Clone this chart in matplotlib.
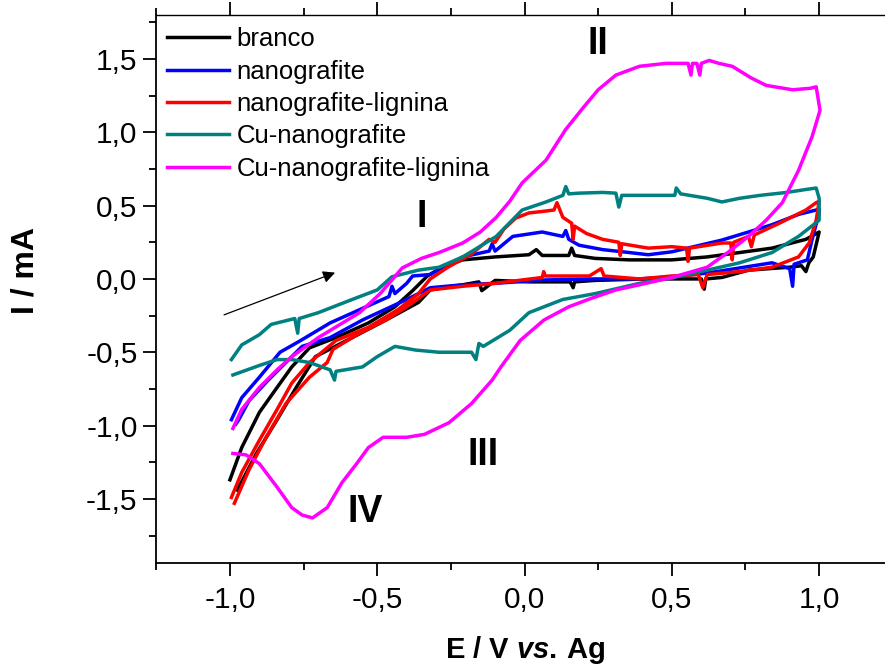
import numpy as np
import matplotlib.pyplot as plt
from matplotlib.ticker import MultipleLocator, FuncFormatter

plt.rcParams['font.family'] = ['Liberation Sans', 'DejaVu Sans']
plt.rcParams['mathtext.fontset'] = 'custom'
plt.rcParams['mathtext.it'] = 'Liberation Sans:italic:bold'
plt.rcParams['mathtext.rm'] = 'Liberation Sans:bold'

# ---------------------------------
# voltammogramas (E / V, I / mA), ida + volta
# ---------------------------------
branco_e = [-1.0, -0.96, -0.90, -0.84, -0.79, -0.73, -0.64, -0.53, -0.44, -0.38, -0.33, -0.28,
            -0.21, -0.10, 0.015, 0.04, 0.06, 0.15, 0.16, 0.17, 0.24, 0.355, 0.50, 0.62, 0.73,
            0.84, 0.955, 1.0,
            0.98, 0.965, 0.955, 0.94, 0.90, 0.76, 0.67, 0.615, 0.61, 0.60, 0.50, 0.42, 0.24,
            0.17, 0.165, 0.155, 0.015, -0.10, -0.145, -0.155, -0.21, -0.32, -0.36, -0.47,
            -0.585, -0.71, -0.775, -0.84, -0.91, -0.975]
branco_i = [-1.37, -1.15, -0.91, -0.74, -0.60, -0.47, -0.40, -0.30, -0.19, -0.08, 0.02, 0.08,
            0.13, 0.15, 0.165, 0.20, 0.16, 0.16, 0.21, 0.16, 0.14, 0.13, 0.13, 0.15, 0.18,
            0.21, 0.27, 0.32,
            0.15, 0.11, 0.05, 0.09, 0.08, 0.06, 0.01, 0.0, -0.07, 0.0, 0.0, 0.0, -0.01,
            -0.02, -0.06, -0.02, -0.02, -0.01, -0.08, -0.02, -0.04, -0.075, -0.16, -0.28,
            -0.40, -0.53, -0.74, -0.96, -1.19, -1.44]

ng_e = [-0.995, -0.96, -0.90, -0.83, -0.76, -0.66, -0.56, -0.46, -0.45, -0.44, -0.40, -0.38,
        -0.32, -0.21, -0.12, -0.11, -0.10, -0.04, 0.06, 0.13, 0.14, 0.15, 0.185, 0.265, 0.355,
        0.42, 0.50, 0.67, 0.76, 0.84, 0.93, 0.99, 1.0,
        1.0, 0.975, 0.96, 0.915, 0.91, 0.90, 0.84, 0.73, 0.62, 0.50, 0.39, 0.24, 0.07, -0.10,
        -0.21, -0.32, -0.40, -0.55, -0.66, -0.755, -0.87, -0.935, -0.97, -0.98]
ng_i = [-0.96, -0.81, -0.67, -0.50, -0.42, -0.30, -0.21, -0.12, -0.05, -0.10, -0.03, 0.02,
        0.03, 0.15, 0.19, 0.24, 0.19, 0.29, 0.32, 0.29, 0.33, 0.27, 0.23, 0.20, 0.18,
        0.165, 0.185, 0.265, 0.32, 0.37, 0.44, 0.47, 0.48,
        0.45, 0.26, 0.13, 0.10, -0.05, 0.07, 0.11, 0.075, 0.04, 0.014, 0.0, 0.0, -0.007, -0.03,
        -0.04, -0.06, -0.14, -0.28, -0.40, -0.46, -0.69, -0.83, -0.96, -0.99]

ng_lig_e = [-0.995, -0.96, -0.90, -0.84, -0.79, -0.73, -0.64, -0.53, -0.43, -0.36, -0.32, -0.26,
            -0.18, -0.12, -0.10, -0.07, -0.03, 0.015, 0.06, 0.10, 0.11, 0.13, 0.16, 0.165, 0.17,
            0.21, 0.265, 0.32, 0.325, 0.33, 0.42, 0.50, 0.55, 0.555, 0.56, 0.67, 0.70, 0.705,
            0.71, 0.76, 0.77, 0.78, 0.865, 0.955, 0.99, 1.0,
            0.99, 0.966, 0.93, 0.84, 0.73, 0.62, 0.605, 0.59, 0.50, 0.39, 0.27, 0.26, 0.22,
            0.07, 0.065, 0.06, -0.10, -0.21, -0.32, -0.40, -0.47, -0.56, -0.65, -0.67, -0.73,
            -0.81, -0.877, -0.935, -0.985]
ng_lig_i = [-1.49, -1.32, -1.10, -0.89, -0.71, -0.57, -0.42, -0.33, -0.21, -0.10, 0.00, 0.08,
            0.17, 0.27, 0.25, 0.34, 0.415, 0.45, 0.46, 0.47, 0.52, 0.42, 0.38, 0.27, 0.36,
            0.31, 0.27, 0.25, 0.16, 0.24, 0.21, 0.22, 0.21, 0.12, 0.21, 0.245, 0.245, 0.13,
            0.25, 0.29, 0.22, 0.30, 0.38, 0.47, 0.52, 0.53,
            0.40, 0.245, 0.15, 0.08, 0.05, 0.03, -0.06, 0.03, 0.02, 0.0, 0.02, 0.07, 0.02,
            0.02, 0.05, 0.01, -0.03, -0.05, -0.075, -0.19, -0.28, -0.37, -0.48, -0.57, -0.67,
            -0.85, -1.08, -1.30, -1.53]

cu_ng_e = [-0.995, -0.96, -0.90, -0.86, -0.78, -0.77, -0.765, -0.70, -0.585, -0.50, -0.45,
           -0.36, -0.29, -0.21, -0.096, -0.008, 0.073, 0.13, 0.14, 0.15, 0.185, 0.265, 0.31,
           0.32, 0.33, 0.42, 0.51, 0.515, 0.53, 0.62, 0.67, 0.73, 0.80, 0.89, 0.955, 0.99,
           1.0, 1.0, 0.93, 0.84, 0.73, 0.62, 0.50, 0.39, 0.24, 0.13, 0.066, 0.015, -0.05,
           -0.14, -0.155, -0.165, -0.18, -0.29, -0.37, -0.44, -0.50, -0.55, -0.64, -0.645,
           -0.66, -0.73, -0.79, -0.84, -0.90, -0.99]
cu_ng_i = [-0.55, -0.45, -0.38, -0.31, -0.27, -0.37, -0.27, -0.23, -0.14, -0.075, 0.015,
           0.06, 0.08, 0.15, 0.29, 0.47, 0.525, 0.57, 0.63, 0.58, 0.585, 0.59, 0.585,
           0.49, 0.57, 0.57, 0.57, 0.62, 0.58, 0.55, 0.525, 0.55, 0.57, 0.59, 0.61, 0.62,
           0.55, 0.40, 0.29, 0.18, 0.11, 0.06, 0.007, -0.03, -0.10, -0.14, -0.19, -0.23, -0.35,
           -0.46, -0.44, -0.55, -0.50, -0.50, -0.485, -0.46, -0.53, -0.60, -0.63, -0.69,
           -0.62, -0.57, -0.55, -0.55, -0.59, -0.655]

cu_ng_lig_e = [-0.99, -0.96, -0.90, -0.84, -0.79, -0.70, -0.56, -0.49, -0.415, -0.35, -0.29,
               -0.21, -0.15, -0.096, -0.05, -0.008, 0.073, 0.14, 0.20, 0.25, 0.31, 0.39, 0.48,
               0.555, 0.565, 0.57, 0.585, 0.595, 0.60, 0.627, 0.66, 0.705, 0.77, 0.82, 0.91,
               0.97, 0.99,
               1.003, 0.976, 0.93, 0.875, 0.82, 0.76, 0.69, 0.62, 0.50, 0.39, 0.31, 0.23, 0.15,
               0.066, -0.015, -0.08, -0.11, -0.18, -0.256, -0.34, -0.40, -0.48, -0.53, -0.57,
               -0.62, -0.67, -0.72, -0.755, -0.79, -0.84, -0.90, -0.945, -0.99]
cu_ng_lig_i = [-1.02, -0.89, -0.74, -0.62, -0.53, -0.40, -0.23, -0.10, 0.075, 0.14, 0.18,
               0.245, 0.32, 0.42, 0.53, 0.655, 0.81, 1.02, 1.17, 1.29, 1.39, 1.45, 1.47,
               1.47, 1.39, 1.47, 1.47, 1.39, 1.47, 1.49, 1.47, 1.45, 1.37, 1.32, 1.29,
               1.30, 1.31,
               1.15, 0.97, 0.74, 0.52, 0.40, 0.29, 0.18, 0.08, 0.01, -0.04, -0.075, -0.13, -0.19,
               -0.28, -0.42, -0.60, -0.69, -0.85, -0.98, -1.06, -1.08, -1.08, -1.15, -1.26,
               -1.39, -1.56, -1.63, -1.61, -1.56, -1.42, -1.26, -1.20, -1.19]

series = [
    ('branco', branco_e, branco_i, 'black'),
    ('nanografite', ng_e, ng_i, '#0000ff'),
    ('nanografite-lignina', ng_lig_e, ng_lig_i, '#ff0000'),
    ('Cu-nanografite', cu_ng_e, cu_ng_i, '#008080'),
    ('Cu-nanografite-lignina', cu_ng_lig_e, cu_ng_lig_i, '#ff00ff'),
]

# picos
picos_txt = ['I', 'II', 'III', 'IV']
picos_e = [-0.35, 0.25, -0.14, -0.54]
picos_i = [0.42, 1.60, -1.20, -1.59]

fig = plt.figure(figsize=(8.85, 6.66), dpi=100)
ax = fig.add_axes([0.1766, 0.1547, 0.8322, 0.8228])

for nome, e, i, cor in series:
    ax.plot(e, i, color=cor, lw=2.5, label=nome)

for txt, e, i in zip(picos_txt, picos_e, picos_i):
    ax.text(e, i, txt, fontsize=27, fontweight='bold', ha='center', va='center')

# seta da direcao de varredura
ax.annotate('', xy=(-0.643, 0.043), xytext=(-1.02, -0.245),
            arrowprops=dict(arrowstyle='-|>', color='black', lw=0.9,
                            mutation_scale=18, shrinkA=0, shrinkB=0))

ax.set_xlim(-1.25, 1.25)
ax.set_ylim(-1.937, 1.80)

fmt = FuncFormatter(lambda v, p: ('%.1f' % (0.0 if abs(v) < 1e-9 else v)).replace('.', ','))
ax.xaxis.set_major_locator(MultipleLocator(0.5))
ax.xaxis.set_minor_locator(MultipleLocator(0.25))
ax.yaxis.set_major_locator(MultipleLocator(0.5))
ax.yaxis.set_minor_locator(MultipleLocator(0.25))
ax.xaxis.set_major_formatter(fmt)
ax.yaxis.set_major_formatter(fmt)

ax.tick_params(which='both', direction='out', width=1.3, labelsize=21.5)
ax.tick_params(which='major', length=9.5)
ax.tick_params(which='minor', length=5)
ax.tick_params(axis='x', which='major', pad=7)
ax.tick_params(axis='y', which='major', pad=4)
ax.tick_params(axis='x', which='both', top=True, labeltop=False)
for s in ['left', 'bottom']:
    ax.spines[s].set_linewidth(1.3)
ax.spines['top'].set_linewidth(1.0)

ax.set_xlabel(r'E / V $\mathit{vs.}\,$Ag', fontsize=21, fontweight='bold')
ax.set_ylabel('I / mA', fontsize=23, fontweight='bold')
ax.xaxis.set_label_coords(0.5006, -0.159)
ax.xaxis.label.set_va('center')
ax.yaxis.set_label_coords(-0.178, 0.533)
ax.yaxis.label.set_va('center')

ax.legend(loc='upper left', bbox_to_anchor=(0.0145, 0.978), frameon=False, fontsize=18.5,
          borderpad=0, borderaxespad=0, handlelength=2.4, handletextpad=0.3,
          labelspacing=0.33)

fig.savefig('out.png', dpi=100)
